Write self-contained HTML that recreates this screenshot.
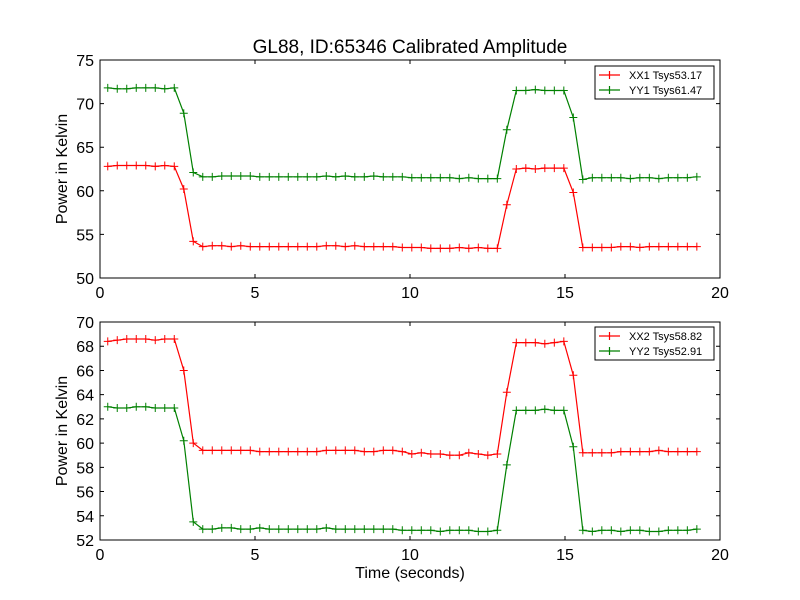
<!DOCTYPE html>
<html><head><meta charset="utf-8"><style>
body{margin:0;background:#fff;}
svg{display:block;font-family:"Liberation Sans","DejaVu Sans",sans-serif;}
</style></head><body>
<svg id="chart" width="800" height="600" viewBox="0 0 800 600">
<rect width="800" height="600" fill="#fff"/>
<text x="410" y="53" font-size="19" text-anchor="middle">GL88, ID:65346 Calibrated Amplitude</text>
<text x="410" y="578" font-size="16" text-anchor="middle">Time (seconds)</text>
</svg>
<script>
const xTicks=[0,5,10,15,20];
const topTicks=[50,55,60,65,70,75];
const botTicks=[52,54,56,58,60,62,64,66,68,70];
const nPoints=63, t0=0.25, dt=0.3065;
const xx1=[62.8,62.9,62.9,62.9,62.9,62.8,62.9,62.8,60.2,54.2,
53.6,53.7,53.7,53.6,53.7,53.6,53.6,53.6,53.6,53.6,53.6,53.6,53.6,53.7,53.7,53.6,53.7,53.6,53.6,53.6,53.6,53.5,53.5,53.5,53.4,53.4,53.4,53.5,53.4,53.5,53.4,53.4,
58.4,62.5,62.6,62.5,62.6,62.6,62.6,59.8,
53.5,53.5,53.5,53.5,53.6,53.6,53.5,53.6,53.6,53.6,53.6,53.6,53.6];
const yy1=[71.8,71.7,71.7,71.8,71.8,71.8,71.7,71.8,68.9,62.1,
61.6,61.6,61.7,61.7,61.7,61.7,61.6,61.6,61.6,61.6,61.6,61.6,61.6,61.7,61.6,61.7,61.6,61.6,61.7,61.6,61.6,61.6,61.5,61.5,61.5,61.5,61.5,61.4,61.5,61.4,61.4,61.4,
67.0,71.5,71.5,71.6,71.5,71.5,71.5,68.4,
61.3,61.5,61.5,61.5,61.5,61.4,61.5,61.5,61.4,61.5,61.5,61.5,61.6];
const xx2=[68.4,68.5,68.6,68.6,68.6,68.5,68.6,68.6,66.0,60.0,
59.4,59.4,59.4,59.4,59.4,59.4,59.3,59.3,59.3,59.3,59.3,59.3,59.3,59.4,59.4,59.4,59.4,59.3,59.3,59.4,59.4,59.3,59.1,59.2,59.1,59.1,59.0,59.0,59.2,59.1,59.0,59.1,
64.2,68.3,68.3,68.3,68.2,68.3,68.4,65.6,
59.2,59.2,59.2,59.2,59.3,59.3,59.3,59.3,59.4,59.3,59.3,59.3,59.3];
const yy2=[63.0,62.9,62.9,63.0,63.0,62.9,62.9,62.9,60.2,53.5,
52.9,52.9,53.0,53.0,52.9,52.9,53.0,52.9,52.9,52.9,52.9,52.9,52.9,53.0,52.9,52.9,52.9,52.9,52.9,52.9,52.9,52.8,52.8,52.8,52.8,52.7,52.8,52.8,52.8,52.7,52.7,52.8,
58.2,62.7,62.7,62.7,62.8,62.7,62.7,59.7,
52.8,52.7,52.8,52.8,52.7,52.8,52.8,52.7,52.7,52.8,52.8,52.8,52.9];
const times=[];for(let i=0;i<nPoints;i++)times.push(t0+i*dt);

const svg=document.getElementById('chart');
const NS='http://www.w3.org/2000/svg';
function mk(tag,attrs,parent){const e=document.createElementNS(NS,tag);for(const k in attrs)e.setAttribute(k,attrs[k]);(parent||svg).appendChild(e);return e;}

function panel(name,top,bottom,ymin,ymax,yticks,series,legendY){
  const L=100,R=720;
  const g=mk('g',{});
  
  
  const xs=v=>L+(v-0)/(20-0)*(R-L);
  const ys=v=>bottom-(v-ymin)/(ymax-ymin)*(bottom-top);
  series.forEach(s=>{
    const sg=mk('g',{},g);
    
    
    let d='';
    s.vals.forEach((v,i)=>{d+=(i?'L':'M')+xs(times[i]).toFixed(1)+' '+ys(v).toFixed(1);});
    mk('path',{d:d,fill:'none',stroke:s.color,'stroke-width':1.2},sg);
    let m='';
    s.vals.forEach((v,i)=>{const x=xs(times[i]),y=ys(v);m+='M'+(x-4)+' '+y+'h8M'+x+' '+(y-4)+'v8';});
    mk('path',{d:m,stroke:s.color,'stroke-width':1},sg);
  });
  mk('rect',{x:L,y:top,width:R-L,height:bottom-top,fill:'none',stroke:'#000','stroke-width':1},g);
  xTicks.forEach(t=>{
    const x=xs(t);
    mk('path',{d:`M${x} ${bottom}v-4M${x} ${top}v4`,stroke:'#000'},g);
    const tx=mk('text',{x:x,y:bottom+20,'font-size':16,'text-anchor':'middle'},g);
    tx.textContent=t;
    
    
  });
  yticks.forEach(t=>{
    const y=ys(t);
    mk('path',{d:`M${L} ${y}h4M${R} ${y}h-4`,stroke:'#000'},g);
    const tx=mk('text',{x:L-6,y:y+6,'font-size':16,'text-anchor':'end'},g);
    tx.textContent=t;
    
    
  });
  const yl=mk('text',{x:0,y:0,'font-size':16,'text-anchor':'middle',transform:`translate(67 ${(top+bottom)/2}) rotate(-90)`},g);
  yl.textContent='Power in Kelvin';
  
  
  const lg=mk('g',{},g);
  
  
  mk('rect',{x:595,y:legendY,width:119,height:33,fill:'#fff',stroke:'#000','stroke-width':1},lg);
  series.forEach((s,i)=>{
    const y=legendY+9+i*15;
    const e=mk('g',{},lg);
    
    
    mk('path',{d:`M599 ${y}h21M609.5 ${y-4}v8`,stroke:s.color,'stroke-width':1.2},e);
    const tx=mk('text',{x:629,y:y+4,'font-size':11},e);
    tx.textContent=s.label;
  });
}
panel('top-panel',60,278,50,75,topTicks,[{vals:xx1,color:'#ff0000',label:'XX1 Tsys53.17'},{vals:yy1,color:'#008000',label:'YY1 Tsys61.47'}],66);
panel('bottom-panel',322,540,52,70,botTicks,[{vals:xx2,color:'#ff0000',label:'XX2 Tsys58.82'},{vals:yy2,color:'#008000',label:'YY2 Tsys52.91'}],327);
</script>
</body></html>
